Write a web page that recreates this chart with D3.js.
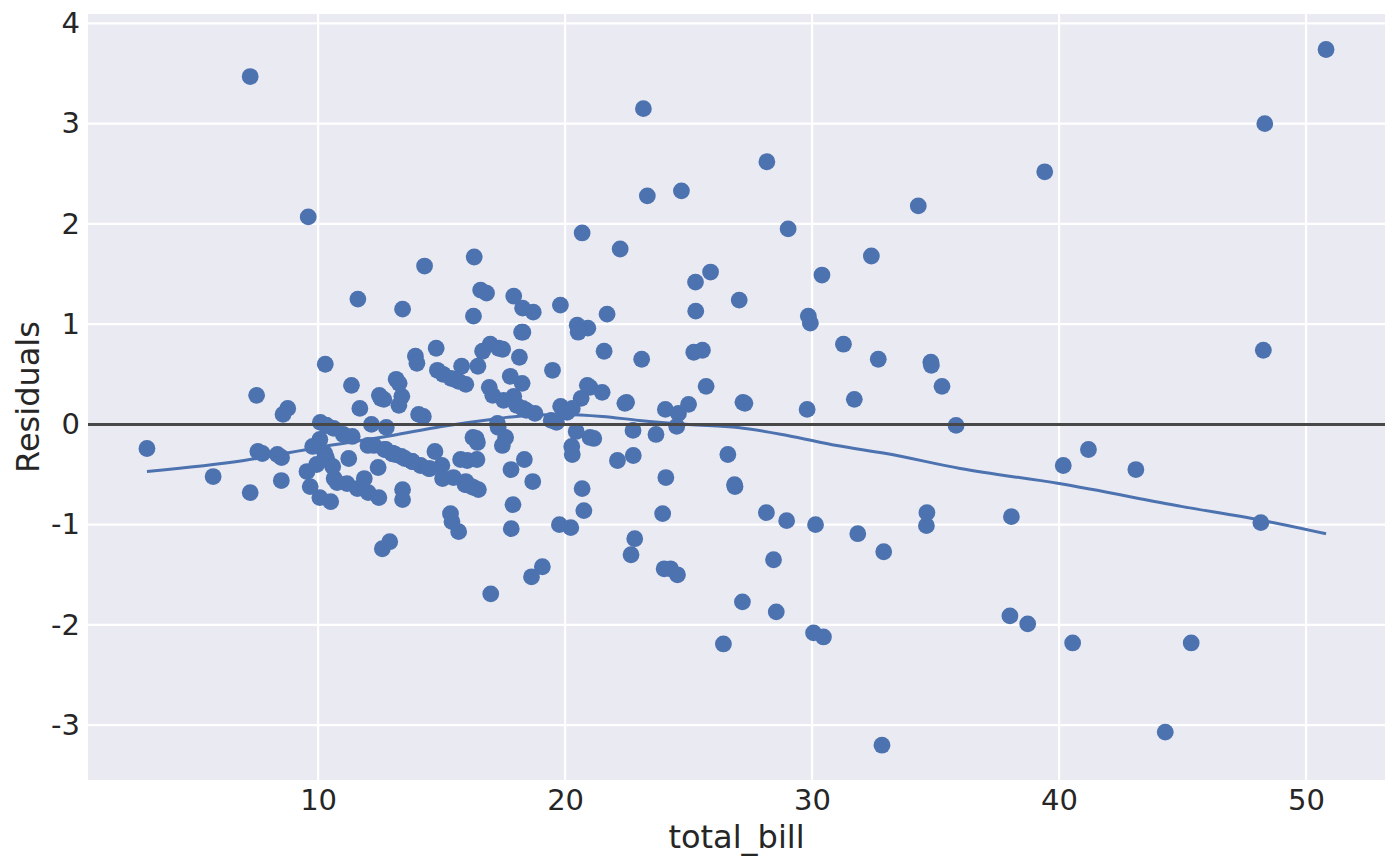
<!DOCTYPE html>
<html>
<head>
<meta charset="utf-8">
<script src="https://cdn.jsdelivr.net/npm/d3@7"></script>
<style>
  body { margin: 0; background: #fff; }
  text { font-family: "DejaVu Sans", sans-serif; fill: #262626; }
</style>
</head>
<body>
<script>
// total_bill for each point
const totalBill = [
  16.99,10.34,21.01,23.68,24.59,25.29,8.77,26.88,15.04,14.78,
  10.27,35.26,15.42,18.43,14.83,21.58,10.33,16.29,16.97,20.65,
  17.92,20.29,15.77,39.42,19.82,17.81,13.37,12.69,21.7,19.65,
  9.55,18.35,15.06,20.69,17.78,24.06,16.31,16.93,18.69,31.27,
  16.04,17.46,13.94,9.68,30.4,18.29,22.23,32.4,28.55,18.04,
  12.54,10.29,34.81,9.94,25.56,19.49,38.01,26.41,11.24,48.27,
  20.29,13.81,11.02,18.29,17.59,20.08,16.45,3.07,20.23,15.01,
  12.02,17.07,26.86,25.28,14.73,10.51,17.92,27.2,22.76,17.29,
  19.44,16.66,10.07,32.68,15.98,34.83,13.03,18.28,24.71,21.16,
  28.97,22.49,5.75,16.32,22.75,40.17,27.28,12.03,21.01,12.46,
  11.35,15.38,44.3,22.42,20.92,15.36,20.49,25.21,18.24,14.31,
  14.0,7.25,38.07,23.95,25.71,17.31,29.93,10.65,12.43,24.08,
  11.69,13.42,14.26,15.95,12.48,29.8,8.52,14.52,11.38,22.82,
  19.08,20.27,11.17,12.26,18.26,8.51,10.33,14.15,16.0,13.16,
  17.47,34.3,41.19,27.05,16.43,8.35,18.64,11.87,9.78,7.51,
  14.07,13.13,17.26,24.55,19.77,29.85,48.17,25.0,13.39,16.49,
  21.5,12.66,16.21,13.81,17.51,24.52,20.76,31.71,10.59,10.63,
  50.81,15.81,7.25,31.85,16.82,32.9,17.89,14.48,9.6,34.63,
  34.65,23.33,45.35,23.17,40.55,20.69,20.9,30.46,18.15,23.1,
  15.69,19.81,28.44,15.48,16.58,7.56,10.34,43.11,13.0,13.51,
  18.71,12.74,13.0,16.4,20.53,16.47,26.59,38.73,24.27,12.76,
  30.06,25.89,48.33,13.27,28.17,12.9,28.15,11.59,7.74,30.14,
  12.16,13.42,8.58,15.98,13.42,16.27,10.09,20.45,13.28,22.12,
  24.01,15.69,11.61,10.77,15.53,10.07,12.6,32.83,35.83,29.03,
  27.18,22.67,17.82,18.78
]

// residual for each point (same order)
const residuals = [
  -1.69,-0.35,0.37,-0.10,0.11,1.13,0.16,-0.62,-0.54,0.76,
  -0.29,0.38,-0.97,0.14,0.54,0.73,-0.33,1.08,0.80,0.26,
  1.28,-0.30,-0.35,2.52,0.18,-0.45,-0.32,-0.25,1.10,0.02,
  -0.47,-0.35,0.50,-0.64,0.48,0.15,-0.63,0.37,-0.57,0.80,
  -0.36,-0.21,0.68,-0.62,1.49,0.16,1.75,1.68,-1.87,0.19,
  0.26,0.60,0.62,-0.40,0.74,0.54,-1.91,-2.19,-0.34,0.74,
  0.16,-0.37,-0.10,0.92,-0.13,0.12,-0.18,-0.24,-1.03,-0.41,
  -0.21,0.29,-0.60,1.42,-0.27,-0.77,0.28,0.22,-0.31,-0.03,
  0.04,0.73,-0.15,0.65,-0.57,0.59,-0.29,1.16,2.33,-0.14,
  -0.96,0.22,-0.52,1.67,-0.06,-0.41,0.21,-0.68,-0.13,-0.73,
  0.39,0.46,-3.07,0.21,0.96,-0.89,0.99,0.72,0.92,1.58,
  0.61,-0.68,-0.92,-0.89,0.38,0.76,1.01,-0.54,-0.43,-0.53,
  0.16,-0.65,0.08,-0.60,0.29,0.15,-0.33,-0.44,-0.12,-1.14,
  -1.42,-0.22,-0.59,-0.21,0.41,-0.56,-0.01,-0.41,-0.60,0.45,
  0.75,2.18,-0.25,1.24,-0.35,-0.30,-1.52,-0.54,-0.22,0.29,
  0.10,-0.30,0.01,-1.50,-1.00,1.08,-0.98,0.20,0.28,-0.65,
  0.32,0.25,-0.62,-0.37,0.24,-0.02,-0.86,0.25,-0.42,-0.04,
  3.74,0.58,3.47,-1.09,1.31,-1.27,-0.80,-0.44,2.07,-1.01,
  -0.88,2.28,-2.18,3.15,-2.18,1.91,0.39,-2.12,0.67,0.65,
  -1.07,1.19,-1.35,-0.53,1.34,-0.27,-0.01,-0.45,-0.29,-0.34,
  1.12,-0.25,-0.29,-0.14,0.92,0.58,-0.30,-1.99,-1.44,-0.03,
  -2.08,1.52,3.00,0.19,2.62,-1.17,-0.88,-0.64,-0.29,-1.00,
  0.00,1.15,0.10,0.40,-0.75,-0.13,0.02,-0.07,0.41,-0.36,
  -1.44,0.43,1.25,-0.58,0.45,-0.73,-1.24,-3.20,-0.01,1.95,
  -1.77,-1.30,-1.04,0.11
]

// lowess curve
const lowessX = [3.07, 7, 10, 13, 15, 17, 18.5, 20, 21.5, 23, 25, 27, 29, 31, 33, 36, 40, 45, 48.17, 50.81]
const lowessY = [-0.47, -0.36, -0.23, -0.11, -0.02, 0.05, 0.09, 0.10, 0.08, 0.04, 0.00, -0.03, -0.11, -0.21, -0.29, -0.44, -0.59, -0.82, -0.955, -1.09]

const xTicks = [10, 20, 30, 40, 50]
const yTicks = [-3, -2, -1, 0, 1, 2, 3, 4]
const xLabel = 'total_bill'
const yLabel = 'Residuals'

const W = 1400, H = 866
const axLeft = 88, axRight = 1385, axTop = 14, axBottom = 780
const blue = '#4c72b0'

const svg = d3.select('body').append('svg')
  .attr('width', W)
  .attr('height', H)

const x = d3.scaleLinear().domain([0.683, 53.197]).range([axLeft, axRight])
const y = d3.scaleLinear().domain([-3.547, 4.094]).range([axBottom, axTop])

// axes background
svg.append('rect')
  .attr('x', axLeft).attr('y', axTop)
  .attr('width', axRight - axLeft).attr('height', axBottom - axTop)
  .attr('fill', '#eaeaf2')

// grid
const grid = svg.append('g').attr('stroke', '#fff').attr('stroke-width', 2.2)
grid.selectAll('.vg').data(xTicks).enter().append('line')
  .attr('x1', d => x(d)).attr('x2', d => x(d))
  .attr('y1', axTop).attr('y2', axBottom)
grid.selectAll('.hg').data(yTicks).enter().append('line')
  .attr('y1', d => y(d)).attr('y2', d => y(d))
  .attr('x1', axLeft).attr('x2', axRight)

// tick labels via d3 axes, no domain or tick lines
const xAxis = svg.append('g')
  .attr('transform', `translate(0,${axBottom})`)
  .call(d3.axisBottom(x).tickValues(xTicks).tickSize(0).tickPadding(9).tickFormat(d3.format('d')))
const yAxis = svg.append('g')
  .attr('transform', `translate(${axLeft},0)`)
  .call(d3.axisLeft(y).tickValues(yTicks).tickSize(0).tickPadding(8).tickFormat(d => String(d)))
;[xAxis, yAxis].forEach(a => {
  a.select('.domain').remove()
  a.selectAll('text')
    .style('font-family', '"DejaVu Sans", sans-serif')
    .style('font-size', '29px')
    .attr('fill', '#262626')
})

// points
const pts = totalBill.map((b, i) => ({ b: b, r: residuals[i] }))
svg.append('g').selectAll('circle')
  .data(pts).enter().append('circle')
  .attr('cx', d => x(d.b))
  .attr('cy', d => y(d.r))
  .attr('r', 8.4)
  .attr('fill', blue)

// lowess
svg.append('path')
  .datum(lowessX.map((v, i) => [v, lowessY[i]]))
  .attr('fill', 'none')
  .attr('stroke', blue)
  .attr('stroke-width', 3)
  .attr('d', d3.line().x(d => x(d[0])).y(d => y(d[1])).curve(d3.curveMonotoneX))

// zero line
svg.append('line')
  .attr('x1', axLeft).attr('x2', axRight)
  .attr('y1', y(0)).attr('y2', y(0))
  .attr('stroke', '#484848')
  .attr('stroke-width', 3)

// axis labels
svg.append('text')
  .attr('x', (axLeft + axRight) / 2)
  .attr('y', 848)
  .attr('text-anchor', 'middle')
  .style('font-size', '32px')
  .text(xLabel)

svg.append('text')
  .attr('transform', `translate(39,${(axTop + axBottom) / 2}) rotate(-90)`)
  .attr('text-anchor', 'middle')
  .style('font-size', '32px')
  .text(yLabel)
</script>
</body>
</html>
